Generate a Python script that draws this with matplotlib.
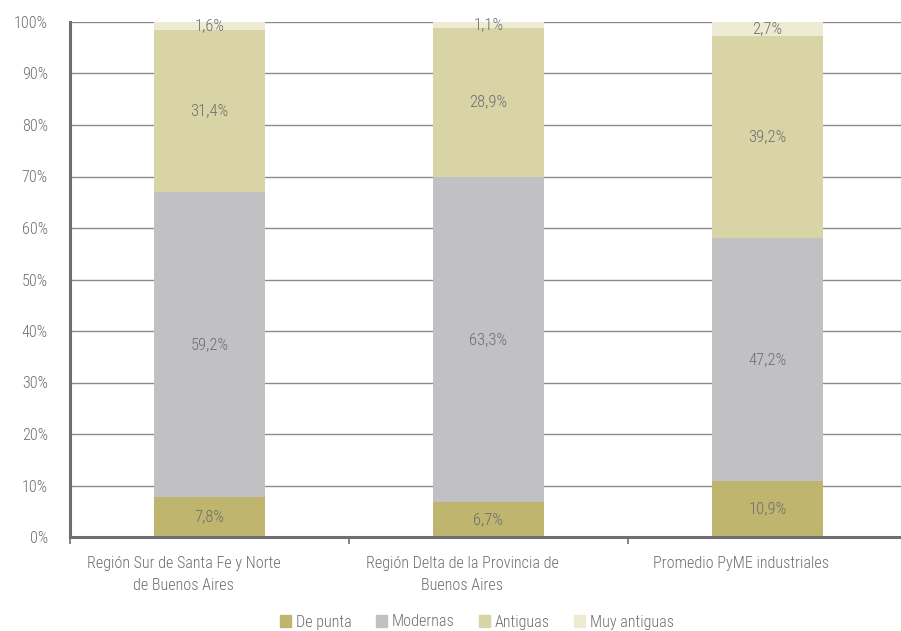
import matplotlib
matplotlib.use("Agg")
import matplotlib.pyplot as plt
import matplotlib.transforms as mtrans
from matplotlib.patches import Patch
import numpy as np

categories = ["Región Sur de Santa Fe y Norte\nde Buenos Aires",
              "Región Delta de la Provincia de\nBuenos Aires",
              "Promedio PyME industriales"]
series_names = ["De punta", "Modernas", "Antiguas", "Muy antiguas"]
de_punta = [7.8, 6.7, 10.9]
modernas = [59.2, 63.3, 47.2]
antiguas = [31.4, 28.9, 39.2]
muy_antiguas = [1.6, 1.1, 2.7]
yticks = [0, 10, 20, 30, 40, 50, 60, 70, 80, 90, 100]

colors = ["#bfb56e", "#c1c1c3", "#d8d4a6", "#edebd3"]
txt = "#6d6e71"
plt.rcParams['font.family'] = ['Roboto Condensed', 'Sofia Sans Condensed', 'Barlow Condensed',
                               'Liberation Sans Narrow', 'Roboto', 'DejaVu Sans']
plt.rcParams['font.weight'] = 'light'
FS = 11.6

fig = plt.figure(figsize=(9.01, 6.31), dpi=100)
W, H = 901, 631
ax = fig.add_axes([70 / W, (H - 537) / H, (907 - 70) / W, (537 - 22) / H])

x = np.arange(len(categories))
bottom = np.zeros(len(categories))
for vals, col in zip([de_punta, modernas, antiguas, muy_antiguas], colors):
    v = np.array(vals)
    ax.bar(x, v, 0.4, bottom=bottom, color=col, zorder=3)
    for xi, b, vi in zip(x, bottom, v):
        ax.text(xi, b + vi / 2, f"{vi:.1f}%".replace(".", ","), ha="center", va="center",
                color=txt, fontsize=FS + 0.4, zorder=4)
    bottom += v

ax.set_xlim(-0.5, 2.5)
ax.set_ylim(0, 100)
ax.set_yticks(yticks)
ax.set_yticklabels([f"{t}%" for t in yticks], color=txt, fontsize=FS)
ax.yaxis.grid(True, color="#8a8a8a", lw=1, zorder=0)
ax.tick_params(axis="y", length=0, pad=16)
ax.set_xticks(x)
ax.set_xticklabels(categories, color=txt, fontsize=FS, linespacing=1.55)
ax.set_xticks([-0.5, 0.5, 1.5, 2.5], minor=True)
ax.tick_params(axis="x", which="major", length=0, pad=14)
ax.tick_params(axis="x", which="minor", length=5, width=1.2, color="#6d6e71")
shift = mtrans.ScaledTranslation(-26 / 100, 0, fig.dpi_scale_trans)
for lab in ax.get_xticklabels():
    lab.set_transform(lab.get_transform() + shift)
for s in ["top", "right"]:
    ax.spines[s].set_visible(False)
for s in ["left", "bottom"]:
    ax.spines[s].set_color("#6d6e71")
    ax.spines[s].set_linewidth(2.2)
    ax.spines[s].set_zorder(5)

handles = [Patch(color=c, label=n) for c, n in zip(colors, series_names)]
fig.legend(handles=handles, loc="center", bbox_to_anchor=(477 / W, (H - 622) / H), ncol=4,
           frameon=False, fontsize=FS, labelcolor=txt, handlelength=0.7, handleheight=0.7,
           handletextpad=0.3, columnspacing=1.5)

fig.savefig("out.png", dpi=100)
